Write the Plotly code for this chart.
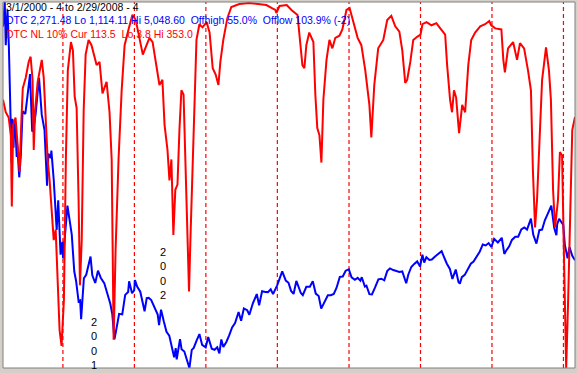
import plotly.graph_objects as go

# ---------------- data ----------------
BLUE_DATES = [
 "2000-03-01","2000-03-10","2000-03-15","2000-03-24","2000-03-31","2000-04-04","2000-04-06","2000-04-14",
 "2000-04-18","2000-04-24","2000-04-27","2000-05-03","2000-05-10","2000-05-12","2000-05-23","2000-05-31",
 "2000-06-09","2000-06-16","2000-06-23","2000-06-30","2000-07-17","2000-07-28","2000-08-02","2000-08-15",
 "2000-08-31","2000-09-01","2000-09-15","2000-09-29","2000-10-12","2000-10-19","2000-10-31","2000-11-03",
 "2000-11-15","2000-11-30","2000-12-08","2000-12-20","2000-12-29",
 "2001-01-02","2001-01-24","2001-01-31","2001-02-15","2001-02-28","2001-03-09","2001-03-22","2001-03-30",
 "2001-04-04","2001-04-18","2001-04-30","2001-05-22","2001-05-31","2001-06-15","2001-06-29","2001-07-13",
 "2001-07-31","2001-08-15","2001-08-31","2001-09-10","2001-09-21","2001-09-28","2001-10-15","2001-10-31",
 "2001-11-15","2001-11-30","2001-12-05","2001-12-20","2001-12-31",
 "2002-01-04","2002-01-15","2002-01-31","2002-02-15","2002-02-22","2002-03-05","2002-03-15","2002-03-28",
 "2002-04-15","2002-04-30","2002-05-07","2002-05-17","2002-05-31","2002-06-14","2002-06-28","2002-07-10",
 "2002-07-23","2002-07-31","2002-08-05","2002-08-22","2002-08-30","2002-09-13","2002-09-30","2002-10-09",
 "2002-10-21","2002-10-31","2002-11-15","2002-11-29","2002-12-13","2002-12-31",
 "2003-01-13","2003-01-31","2003-02-14","2003-02-28","2003-03-11","2003-03-21","2003-03-31","2003-04-15",
 "2003-04-30","2003-05-15","2003-05-30","2003-06-17","2003-06-30","2003-07-14","2003-07-31","2003-08-11",
 "2003-08-29","2003-09-18","2003-09-30","2003-10-15","2003-10-31","2003-11-14","2003-11-28","2003-12-10",
 "2003-12-31",
 "2004-01-26","2004-02-13","2004-02-27","2004-03-11","2004-03-24","2004-04-07","2004-04-30","2004-05-10",
 "2004-05-28","2004-06-15","2004-06-30","2004-07-15","2004-07-30","2004-08-12","2004-08-31","2004-09-15",
 "2004-09-30","2004-10-15","2004-10-29","2004-11-15","2004-11-30","2004-12-15","2004-12-31",
 "2005-01-14","2005-01-31","2005-02-14","2005-02-28","2005-03-07","2005-03-23","2005-03-31","2005-04-15",
 "2005-04-28","2005-05-13","2005-05-31","2005-06-15","2005-06-30","2005-07-15","2005-07-29","2005-08-15",
 "2005-08-31","2005-09-15","2005-09-30","2005-10-20","2005-10-31","2005-11-15","2005-11-30","2005-12-15",
 "2005-12-30",
 "2006-01-11","2006-01-20","2006-01-31","2006-02-15","2006-02-28","2006-03-15","2006-03-31","2006-04-19",
 "2006-04-28","2006-05-15","2006-05-31","2006-06-13","2006-06-30","2006-07-14","2006-07-21","2006-07-31",
 "2006-08-15","2006-08-31","2006-09-15","2006-09-29","2006-10-13","2006-10-31","2006-11-15","2006-11-30",
 "2006-12-15","2006-12-29",
 "2007-01-12","2007-01-31","2007-02-20","2007-02-27","2007-03-05","2007-03-15","2007-03-30","2007-04-13",
 "2007-04-30","2007-05-15","2007-05-31","2007-06-15","2007-06-29","2007-07-19","2007-07-31","2007-08-16",
 "2007-08-31","2007-09-14","2007-09-28","2007-10-15","2007-10-31","2007-11-15","2007-11-26","2007-11-30",
 "2007-12-10","2007-12-31",
 "2008-01-08","2008-01-22","2008-01-31","2008-02-01","2008-02-15","2008-02-29",
]
BLUE_VALUES = [
 4784,5048,4583,4963,4573,4149,4267,3321,
 3794,3482,3774,3707,3384,3529,3164,3400,
 3875,3860,3845,3966,4274,3663,3658,3850,
 4206,4234,3835,3672,3074,3418,3370,3451,
 3138,2597,2917,2332,2470,
 2291,2859,2772,2552,2151,2052,1830,1840,
 1638,2079,2116,2313,2110,2028,2160,2085,
 2027,1919,1805,1695,1423,1499,1696,1690,
 1900,1930,2046,1918,1950,
 2059,1990,1934,1805,1724,1866,1868,1845,
 1756,1688,1574,1741,1616,1504,1463,1346,
 1229,1328,1206,1423,1315,1291,1172,1114,
 1309,1330,1411,1479,1362,1336,
 1447,1321,1310,1337,1271,1421,1341,1391,
 1464,1551,1596,1716,1623,1754,1735,1687,
 1810,1909,1787,1939,1932,1930,1960,1908,
 2003,
 2153,2053,2030,1943,1910,2050,1920,1897,
 1987,1987,2048,1914,1887,1752,1838,1896,
 1897,1911,1975,2094,2097,2160,2175,
 2088,2062,2083,2052,2090,1990,1999,1908,
 1904,1976,2068,2074,2057,2156,2185,2167,
 2152,2146,2152,2025,2120,2200,2233,2260,
 2205,
 2332,2247,2306,2276,2281,2311,2340,2370,
 2323,2238,2179,2072,2172,2038,2020,2091,
 2115,2184,2235,2258,2311,2367,2442,2432,
 2457,2415,
 2502,2464,2514,2408,2340,2377,2422,2491,
 2525,2525,2605,2626,2603,2720,2546,2451,
 2596,2602,2702,2781,2859,2618,2541,2661,
 2718,2652,
 2441,2292,2389,2413,2321,2271.48,
]

RED_DATES = [
 "2000-03-01","2000-03-15","2000-03-30","2000-04-10","2000-04-15","2000-04-22","2000-05-04","2000-05-15",
 "2000-05-25","2000-06-02","2000-06-10","2000-06-25","2000-07-10","2000-07-20","2000-07-30","2000-08-05",
 "2000-08-12","2000-08-25","2000-09-15","2000-09-25","2000-10-05","2000-10-15","2000-10-25","2000-11-05",
 "2000-11-15","2000-11-25","2000-12-05","2000-12-15","2000-12-25",
 "2001-01-06","2001-01-16","2001-01-26","2001-02-11","2001-02-21","2001-03-02","2001-03-12","2001-03-22",
 "2001-03-29","2001-04-07","2001-04-17","2001-04-27","2001-05-12","2001-05-27","2001-06-22","2001-07-07",
 "2001-07-22","2001-08-12","2001-08-27","2001-09-07","2001-09-17","2001-09-27","2001-10-12","2001-10-28",
 "2001-11-12","2001-12-02","2001-12-22",
 "2002-01-08","2002-01-28","2002-02-13","2002-03-04","2002-03-19","2002-04-04","2002-04-24","2002-05-09",
 "2002-05-24","2002-06-04","2002-06-19","2002-06-29","2002-07-09","2002-07-19","2002-07-29","2002-08-09",
 "2002-08-19","2002-08-29","2002-09-09","2002-09-19","2002-09-29","2002-10-07","2002-10-14","2002-10-30",
 "2002-11-14","2002-11-29","2002-12-15",
 "2003-01-05","2003-01-20","2003-02-05","2003-02-20","2003-03-06","2003-03-16","2003-03-31","2003-04-21",
 "2003-05-11","2003-06-21","2003-08-11","2003-10-01","2003-11-06","2003-12-02","2003-12-22","2003-12-27",
 "2004-01-12","2004-02-18","2004-03-13","2004-04-13","2004-04-23","2004-05-08","2004-05-18","2004-05-28",
 "2004-06-12","2004-07-03","2004-07-13","2004-07-23","2004-08-03","2004-08-13","2004-08-23","2004-09-08",
 "2004-09-23","2004-10-08","2004-10-23","2004-11-13","2004-11-28","2004-12-19",
 "2005-01-04","2005-01-24","2005-02-14","2005-03-05","2005-03-25","2005-04-15","2005-04-25","2005-05-10",
 "2005-05-30","2005-06-25","2005-07-15","2005-08-05","2005-08-25","2005-09-15","2005-09-30","2005-10-15",
 "2005-10-25","2005-11-10","2005-11-25","2005-12-15",
 "2006-01-01","2006-01-11","2006-02-01","2006-02-26","2006-03-23","2006-04-12","2006-05-07","2006-05-17",
 "2006-06-01","2006-06-11","2006-06-21","2006-07-02","2006-07-17","2006-08-02","2006-08-17","2006-09-02",
 "2006-09-17","2006-10-07","2006-11-02","2006-11-27","2006-12-18","2006-12-28",
 "2007-01-18","2007-02-18","2007-02-28","2007-03-08","2007-03-24","2007-04-19","2007-05-09","2007-05-24",
 "2007-06-14","2007-07-04","2007-07-19","2007-07-29","2007-08-09","2007-08-19","2007-08-29","2007-09-14",
 "2007-10-04","2007-10-19","2007-10-29","2007-11-09","2007-11-19","2007-12-04","2007-12-14","2007-12-25",
 "2008-01-05","2008-01-15","2008-01-25","2008-02-05","2008-02-15","2008-02-29",
]
RED_VALUES = [
 97,109,114,131,199,121,114,145,
 166,121,86,76,61,56,78,145,
 107,80,59,76,114,154,174,207,
 231,221,279,317,332,
 288,154,69,42,50,94,105,193,
 274,231,107,54,40,45,64,61,
 91,80,109,154,326,240,154,88,
 45,30,16,
 21,40,54,45,38,42,67,83,
 78,121,145,174,154,226,183,178,
 126,88,92,169,224,280,231,126,
 40,25,28,
 23,33,67,73,83,61,40,19,
 8.6,5.7,4.8,5.7,6.7,9.5,11.4,14.3,
 7.6,6.7,11.4,16.2,33,64,67,45,
 33,42,92,124,131,157,97,59,
 40,48,38,36,30,11.4,
 9.5,23,38,45,69,102,133,83,
 48,40,21,17,27,32,50,81,
 78,61,40,37,
 35,25,23,26,24,29,35,64,
 97,109,88,95,129,102,109,64,
 40,33,27,25,22,26,
 29,30,59,71,48,42,59,43,
 48,69,88,164,219,193,145,78,
 47,69,97,183,219,193,147,150,
 259,353,288,193,126,113.5,
]

YEAR_STARTS = ["2001-01-01","2002-01-01","2003-01-01","2004-01-01",
               "2005-01-01","2006-01-01","2007-01-01","2008-01-01"]

HEADER_LINES = [
    ("3/1/2000 - 4 to 2/29/2008 - 4", "#000000"),
    ("DTC 2,271.48 Lo 1,114.11 Hi 5,048.60\u00a0\u00a0Offhigh 55.0%\u00a0\u00a0Offlow 103.9% (-2)", "#0000ff"),
    ("DTC NL 10% Cur 113.5\u00a0\u00a0Lo 3.8 Hi 353.0", "#ff0000"),
]
YEAR_LABELS = [("2001", "2001-06-10", 0.066), ("2002", "2002-05-28", 0.257)]

BLUE_RANGE = [1114.11, 5048.60]
RED_RANGE = [353.0, 3.8]   # reversed: many new lows at the bottom
X_RANGE = ["2000-03-01", "2008-02-29"]

# ---------------- figure ----------------
W, H = 577, 373
ML, MR, MT, MB = 3, 2, 2, 5
PW, PH = W - ML - MR, H - MT - MB

fig = go.Figure()
fig.add_trace(go.Scatter(x=RED_DATES, y=RED_VALUES, mode="lines", yaxis="y2",
                         line=dict(color="#ff0000", width=2), hoverinfo="skip"))
fig.add_trace(go.Scatter(x=BLUE_DATES, y=BLUE_VALUES, mode="lines", yaxis="y",
                         line=dict(color="#0000ff", width=2), hoverinfo="skip"))

shapes = []
for d in YEAR_STARTS:
    shapes.append(dict(type="line", xref="x", yref="paper", x0=d, x1=d, y0=0, y1=1,
                       line=dict(color="#ff0000", width=1.2, dash="4px,3px"), layer="below"))
# window-like inner border
shapes.append(dict(type="rect", xref="paper", yref="paper", x0=0, x1=1, y0=0, y1=1,
                   line=dict(color="#808080", width=1), layer="above"))

ann = []
line_y = [7, 20, 34]
for (txt, col), py in zip(HEADER_LINES, line_y):
    ann.append(dict(text=txt, xref="paper", yref="paper", x=(3.5 - ML) / PW,
                    y=(H - MB - py) / PH, xanchor="left", yanchor="middle", showarrow=False,
                    font=dict(family="Arial, Liberation Sans, sans-serif", size=10.5, color=col)))
for txt, xd, yp in YEAR_LABELS:
    ann.append(dict(text="<br>".join(txt), xref="x", yref="paper", x=xd, y=yp,
                    xanchor="center", yanchor="middle", showarrow=False,
                    font=dict(family="Arial, Liberation Sans, sans-serif", size=11, color="#000000")))

fig.update_layout(
    width=W, height=H,
    margin=dict(l=ML, r=MR, t=MT, b=MB, pad=0),
    paper_bgcolor="#d4d0c8", plot_bgcolor="#ffffff",
    showlegend=False,
    xaxis=dict(range=X_RANGE, type="date", visible=False, fixedrange=True),
    yaxis=dict(range=BLUE_RANGE, visible=False, fixedrange=True),
    yaxis2=dict(range=RED_RANGE, overlaying="y", visible=False, fixedrange=True),
    shapes=shapes, annotations=ann,
)
fig.write_html("out.html", config={"displayModeBar": False},
               post_script="document.body.style.margin='0';document.body.style.overflow='hidden';")
